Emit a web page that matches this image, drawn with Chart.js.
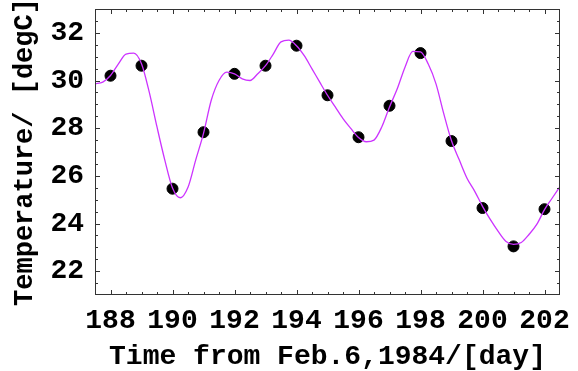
<!DOCTYPE html>
<html>
<head>
<meta charset="utf-8">
<script src="https://cdn.jsdelivr.net/npm/chart.js@4"></script>
<style>
  html, body { margin: 0; padding: 0; background: #fff; }
  #wrap { width: 578px; height: 371px; }
</style>
</head>
<body>
<div id="wrap"><canvas id="temp-chart"></canvas></div>
<script>
// Measured daily temperatures (black dots)
const pointDays = [188, 189, 190, 191, 192, 193, 194, 195, 196, 197, 198, 199, 200, 201, 202];
const pointTemps = [30.2, 30.62, 25.46, 27.83, 30.28, 30.62, 31.46, 29.38, 27.62, 28.94, 31.15, 27.46, 24.65, 23.04, 24.6];

// Fitted curve (magenta line), read every quarter day
const curveDays = [
    187.5, 187.75, 188, 188.25, 188.5, 188.75, 189, 189.25, 189.5, 189.75,
    190, 190.25, 190.5, 190.75, 191, 191.25, 191.5, 191.75, 192, 192.25,
    192.5, 192.75, 193, 193.25, 193.5, 193.75, 194, 194.25, 194.5, 194.75,
    195, 195.25, 195.5, 195.75, 196, 196.25, 196.5, 196.75, 197, 197.25,
    197.5, 197.75, 198, 198.25, 198.5, 198.75, 199, 199.25, 199.5, 199.75,
    200, 200.25, 200.5, 200.75, 201, 201.25, 201.5, 201.75, 202, 202.25, 202.5
];
const curveTemps = [
    29.86, 29.93, 30.21, 30.69, 31.11, 31.15, 30.7, 29.51, 28.05, 26.67,
    25.49, 25.08, 25.52, 26.67, 27.78, 29.17, 30.0, 30.35, 30.28, 30.07,
    30.0, 30.28, 30.62, 31.11, 31.62, 31.69, 31.46, 31.04, 30.49, 29.93,
    29.38, 28.89, 28.4, 27.99, 27.61, 27.43, 27.5, 28.05, 28.89, 29.65,
    30.56, 31.22, 31.2, 30.69, 29.86, 28.61, 27.47, 26.67, 25.9, 25.35,
    24.72, 24.17, 23.68, 23.26, 23.12, 23.2, 23.54, 23.96, 24.58, 25.07, 25.55
];

// Axis ranges and tick labels
const xRange = [187.5, 202.5];
const yRange = [21, 33];
const xTickValues = [188, 190, 192, 194, 196, 198, 200, 202];
const yTickValues = [22, 24, 26, 28, 30, 32];

// Frame around the plot with inward ticks on all four sides
const frameTicks = {
    id: 'frameTicks',
    afterDraw(chart) {
        const { ctx, chartArea: a, scales: { x, y } } = chart;
        ctx.save();
        ctx.strokeStyle = '#333';
        ctx.lineWidth = 1;
        ctx.strokeRect(a.left + 0.5, a.top + 0.5, a.width - 1, a.height - 1);
        ctx.beginPath();
        for (let v = xRange[0] + 0.5; v < xRange[1]; v += 0.5) {
            const px = Math.round(x.getPixelForValue(v)) + 0.5;
            const len = xTickValues.includes(v) ? 5 : 3;
            ctx.moveTo(px, a.bottom); ctx.lineTo(px, a.bottom - len);
            ctx.moveTo(px, a.top); ctx.lineTo(px, a.top + len);
        }
        for (let v = yRange[0] + 0.5; v < yRange[1]; v += 0.5) {
            const py = Math.round(y.getPixelForValue(v)) + 0.5;
            const len = yTickValues.includes(v) ? 5 : 3;
            ctx.moveTo(a.left, py); ctx.lineTo(a.left + len, py);
            ctx.moveTo(a.right, py); ctx.lineTo(a.right - len, py);
        }
        ctx.stroke();
        ctx.restore();
    }
};

Chart.defaults.font.family = "'Liberation Mono', 'DejaVu Sans Mono', monospace";
Chart.defaults.font.weight = 'bold';
Chart.defaults.font.size = 28;
Chart.defaults.color = '#000';

const ctx = document.getElementById('temp-chart').getContext('2d');
new Chart(ctx, {
    type: 'line',
    data: {
        datasets: [{
            label: 'Fit',
            data: curveDays.map((d, i) => ({ x: d, y: curveTemps[i] })),
            borderColor: '#cc33ff',
            borderWidth: 1.3,
            pointRadius: 0,
            fill: false,
            cubicInterpolationMode: 'monotone'
        }, {
            label: 'Observed',
            type: 'scatter',
            data: pointDays.map((d, i) => ({ x: d, y: pointTemps[i] })),
            backgroundColor: '#000',
            borderColor: '#000',
            pointRadius: 5.5,
            showLine: false
        }]
    },
    options: {
        responsive: true,
        maintainAspectRatio: false,
        animation: false,
        layout: { padding: { top: 9, right: 18, bottom: 0, left: 0 } },
        plugins: {
            legend: { display: false },
            tooltip: { enabled: false }
        },
        scales: {
            x: {
                type: 'linear',
                bounds: 'data',
                min: xRange[0],
                max: xRange[1],
                grid: { display: false, drawTicks: false },
                border: { display: false },
                afterBuildTicks: scale => { scale.ticks = xTickValues.map(v => ({ value: v })); },
                afterFit: scale => {
                    scale.height = 76;
                    scale.paddingLeft = 0;
                    scale.paddingRight = 0;
                },
                ticks: { padding: 9, maxRotation: 0, autoSkip: false },
                title: {
                    display: true,
                    text: 'Time from Feb.6,1984/[day]',
                    font: { lineHeight: 1.0 },
                    padding: { top: 0, bottom: 0 }
                }
            },
            y: {
                bounds: 'data',
                min: yRange[0],
                max: yRange[1],
                grid: { display: false, drawTicks: false },
                border: { display: false },
                afterBuildTicks: scale => { scale.ticks = yTickValues.map(v => ({ value: v })); },
                afterFit: scale => {
                    scale.width = 95;
                    scale.paddingTop = 0;
                    scale.paddingBottom = 0;
                },
                ticks: { padding: 11 },
                title: {
                    display: true,
                    text: 'Temperature/ [degC]',
                    font: { size: 27 },
                    padding: { top: 9, bottom: 0 }
                }
            }
        }
    },
    plugins: [frameTicks]
});
</script>
</body>
</html>
